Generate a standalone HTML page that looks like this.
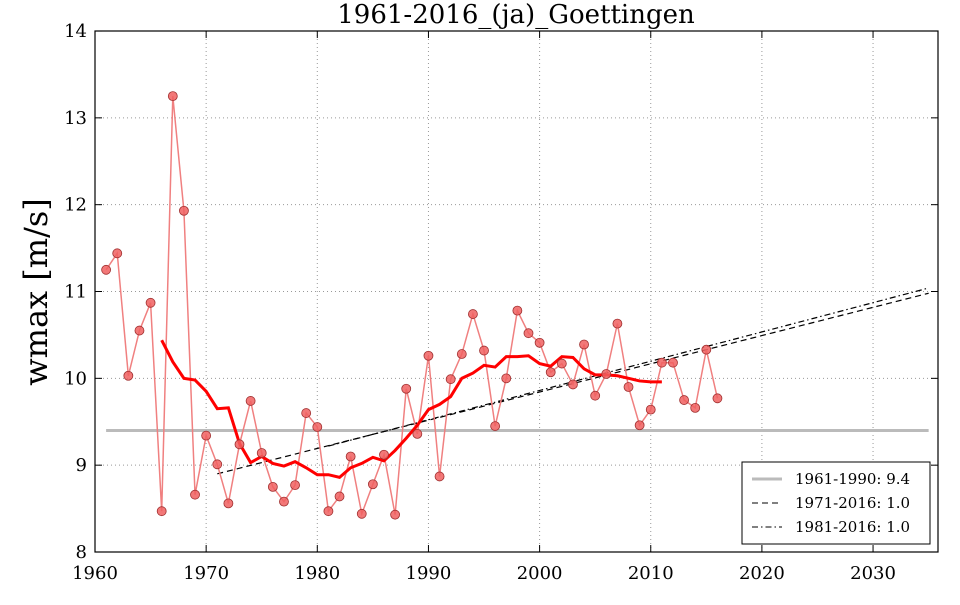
<!DOCTYPE html>
<html><head><meta charset="utf-8"><style>
body{margin:0;background:#fff;}
svg text{font-family:"DejaVu Serif","Liberation Serif",serif;}
</style></head><body>
<svg id="s" width="960" height="600" xmlns="http://www.w3.org/2000/svg"></svg>
<script>
const X=y=>95+(y-1960)*11.115, Y=v=>552-(v-8)*86.83;
let h='';
h+='<rect x="0" y="0" width="960" height="600" fill="#fff"/>';
for(let y=1960;y<=2030;y+=10){h+=`<line x1="${X(y)}" y1="31" x2="${X(y)}" y2="552" stroke="#999" stroke-dasharray="1,3"/>`;}
for(let v=8;v<=14;v++){h+=`<line x1="95" y1="${Y(v)}" x2="938" y2="${Y(v)}" stroke="#999" stroke-dasharray="1,3"/>`;}
h+=`<line x1="${X(1961)}" y1="${Y(9.4)}" x2="${X(2035)}" y2="${Y(9.4)}" stroke="#bbb" stroke-width="3"/>`;
h+=`<line x1="${X(1971)}" y1="${Y(8.9)}" x2="${X(2035)}" y2="${Y(10.98)}" stroke="#000" stroke-width="1.2" stroke-dasharray="6,4"/>`;
h+=`<line x1="${X(1981)}" y1="${Y(9.22)}" x2="${X(2035)}" y2="${Y(11.04)}" stroke="#000" stroke-width="1.2" stroke-dasharray="6,3,1.5,3"/>`;
const d=[11.25,11.44,10.03,10.55,10.87,8.47,13.25,11.93,8.66,9.34,9.01,8.56,9.24,9.74,9.14,8.75,8.58,8.77,9.60,9.44,8.47,8.64,9.10,8.44,8.78,9.12,8.43,9.88,9.36,10.26,8.87,9.99,10.28,10.74,10.32,9.45,10.00,10.78,10.52,10.41,10.07,10.17,9.93,10.39,9.80,10.05,10.63,9.90,9.46,9.64,10.18,10.18,9.75,9.66,10.33,9.77];
let p=d.map((v,i)=>X(1961+i)+','+Y(v)).join(' ');
h+=`<polyline points="${p}" fill="none" stroke="#f08080" stroke-width="1.5"/>`;
const m=[10.44,10.19,10.00,9.98,9.85,9.65,9.66,9.25,9.03,9.10,9.02,8.99,9.04,8.97,8.89,8.89,8.86,8.97,9.02,9.09,9.05,9.17,9.31,9.46,9.64,9.70,9.79,10.00,10.06,10.15,10.13,10.25,10.25,10.26,10.17,10.14,10.25,10.24,10.11,10.04,10.04,10.03,10.00,9.97,9.96,9.96];
h+=`<polyline points="${m.map((v,i)=>X(1966+i)+','+Y(v)).join(' ')}" fill="none" stroke="#f00" stroke-width="3"/>`;
d.forEach((v,i)=>{h+=`<circle cx="${X(1961+i)}" cy="${Y(v)}" r="4.5" fill="#f06060" fill-opacity="0.85" stroke="#a03030" stroke-width="0.8"/>`;});
h+='<rect x="95" y="31" width="843" height="521" fill="none" stroke="#000" stroke-width="1.2"/>';
for(let y=1960;y<=2030;y+=10){const x=X(y);h+=`<line x1="${x}" y1="552" x2="${x}" y2="545" stroke="#000"/><line x1="${x}" y1="31" x2="${x}" y2="38" stroke="#000"/><text x="${x}" y="579" font-size="18" text-anchor="middle">${y}</text>`;}
for(let v=8;v<=14;v++){const y=Y(v);h+=`<line x1="95" y1="${y}" x2="102" y2="${y}" stroke="#000"/><line x1="938" y1="${y}" x2="931" y2="${y}" stroke="#000"/><text x="87" y="${y+6}" font-size="18" text-anchor="end">${v}</text>`;}
h+='<text x="516" y="23" font-size="26" text-anchor="middle">1961-2016_(ja)_Goettingen</text>';
h+='<text transform="translate(47,292) rotate(-90)" font-size="32" text-anchor="middle">wmax [m/s]</text>';
h+='<rect x="742" y="462" width="188" height="82" fill="#fff" stroke="#000"/>';
h+='<line x1="752" y1="479" x2="782" y2="479" stroke="#bbb" stroke-width="3"/><text x="795" y="484" font-size="15">1961-1990: 9.4</text>';
h+='<line x1="752" y1="503" x2="782" y2="503" stroke="#000" stroke-dasharray="6,4"/><text x="795" y="508" font-size="15">1971-2016: 1.0</text>';
h+='<line x1="752" y1="527" x2="782" y2="527" stroke="#000" stroke-dasharray="6,3,1.5,3"/><text x="795" y="532" font-size="15">1981-2016: 1.0</text>';
document.getElementById('s').innerHTML=h;
</script>
</body></html>
